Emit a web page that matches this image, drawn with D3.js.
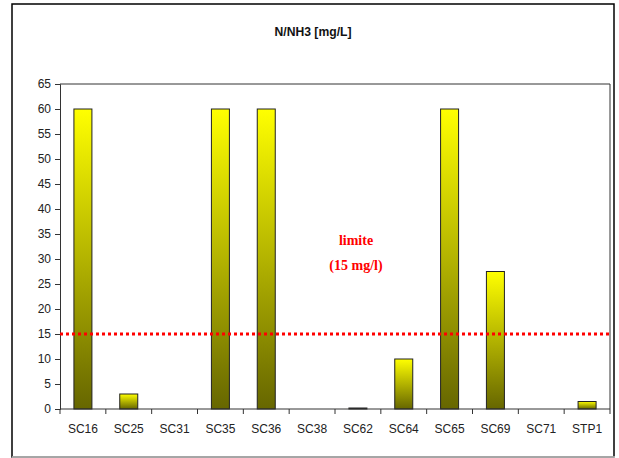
<!DOCTYPE html>
<html>
<head>
<meta charset="utf-8">
<script src="https://cdn.jsdelivr.net/npm/d3@7"></script>
<style>
  html, body { margin: 0; padding: 0; background: #fff; }
  svg { display: block; }
</style>
</head>
<body>
<svg id="chart" width="619" height="458"></svg>
<script>
// Sampling stations and ammonia nitrogen concentrations (mg/L)
const stations = ["SC16", "SC25", "SC31", "SC35", "SC36", "SC38", "SC62", "SC64", "SC65", "SC69", "SC71", "STP1"];
const values = [60, 3, 0, 60, 60, 0, 0.2, 10, 60, 27.5, 0, 1.5];
const yTicks = [0, 5, 10, 15, 20, 25, 30, 35, 40, 45, 50, 55, 60, 65];
const limitValue = 15;
const title = "N/NH3 [mg/L]";
const limitLabel = ["limite", "(15 mg/l)"];

const svg = d3.select("#chart");
const W = 619, H = 458;
const plot = { left: 60, right: 610, top: 84, bottom: 409 };

// Outer frame
svg.append("rect").attr("x", 12).attr("y", 4).attr("width", 602).attr("height", 453)
  .attr("fill", "#fff").attr("stroke", "#000").attr("stroke-width", 1.5);
svg.append("line").attr("x1", 12).attr("x2", 615).attr("y1", 457).attr("y2", 457)
  .attr("stroke", "#c8c8c8").attr("stroke-width", 1.5);

// Title
svg.append("text").attr("x", 313).attr("y", 36).attr("text-anchor", "middle")
  .attr("font-family", "Liberation Sans, Arial, sans-serif").attr("font-weight", "bold")
  .attr("font-size", 12).attr("textLength", 77).attr("lengthAdjust", "spacingAndGlyphs")
  .attr("fill", "#111").text(title);

const x = d3.scaleBand().domain(stations).range([plot.left, plot.right]).paddingInner(0).paddingOuter(0);
const y = d3.scaleLinear().domain([0, 65]).range([plot.bottom, plot.top]);

// Plot area frame (top and right)
svg.append("path")
  .attr("d", `M${plot.left},${plot.top}H${plot.right}V${plot.bottom}`)
  .attr("fill", "none").attr("stroke", "#333").attr("stroke-width", 1);

// Bar gradient: bright yellow at the top fading to dark olive at the base
const defs = svg.append("defs");
const grad = defs.append("linearGradient").attr("id", "barGrad")
  .attr("x1", 0).attr("y1", 0).attr("x2", 0).attr("y2", 1);
grad.append("stop").attr("offset", "0%").attr("stop-color", "#ffff00");
grad.append("stop").attr("offset", "50%").attr("stop-color", "#b3b300");
grad.append("stop").attr("offset", "100%").attr("stop-color", "#666600");

const barW = 18;
svg.append("g").selectAll("rect").data(stations.map((s, i) => ({ s, v: values[i] })).filter(d => d.v > 0))
  .join("rect")
  .attr("x", d => x(d.s) + x.bandwidth() / 2 - barW / 2)
  .attr("y", d => y(d.v))
  .attr("width", barW)
  .attr("height", d => y(0) - y(d.v))
  .attr("fill", "url(#barGrad)")
  .attr("stroke", "#222").attr("stroke-width", 1);

// Y axis
const yAxis = svg.append("g").attr("transform", `translate(${plot.left},0)`)
  .call(d3.axisLeft(y).tickValues(yTicks).tickSize(5).tickPadding(4));
// X axis
const xAxis = svg.append("g").attr("transform", `translate(0,${plot.bottom})`)
  .call(d3.axisBottom(x).tickSize(0).tickPadding(15));
// Category separator ticks
const sepTicks = stations.map(s => x(s)).concat([plot.right]);
svg.append("g").selectAll("line").data(sepTicks).join("line")
  .attr("x1", d => d).attr("x2", d => d)
  .attr("y1", plot.bottom).attr("y2", plot.bottom + 5)
  .attr("stroke", "#333");

[yAxis, xAxis].forEach(g => {
  g.select(".domain").attr("stroke", "#333");
  g.selectAll(".tick line").attr("stroke", "#333");
  g.selectAll("text").attr("font-family", "Liberation Sans, Arial, sans-serif")
    .attr("font-size", 12).attr("fill", "#222");
});
xAxis.select(".domain").attr("d", `M${plot.left},0H${plot.right}`);

// Limit line at 15 mg/L
svg.append("line")
  .attr("x1", plot.left).attr("x2", plot.right)
  .attr("y1", y(limitValue)).attr("y2", y(limitValue))
  .attr("stroke", "#ff0000").attr("stroke-width", 3)
  .attr("stroke-dasharray", "3,3");

// Limit annotation
const lab = svg.append("text").attr("text-anchor", "middle")
  .attr("font-family", "Liberation Serif, Times New Roman, serif").attr("font-weight", "bold")
  .attr("font-size", 14).attr("fill", "#ff0000");
lab.append("tspan").attr("x", 356).attr("y", 245).text(limitLabel[0]);
lab.append("tspan").attr("x", 356).attr("y", 270).text(limitLabel[1]);
</script>
</body>
</html>
